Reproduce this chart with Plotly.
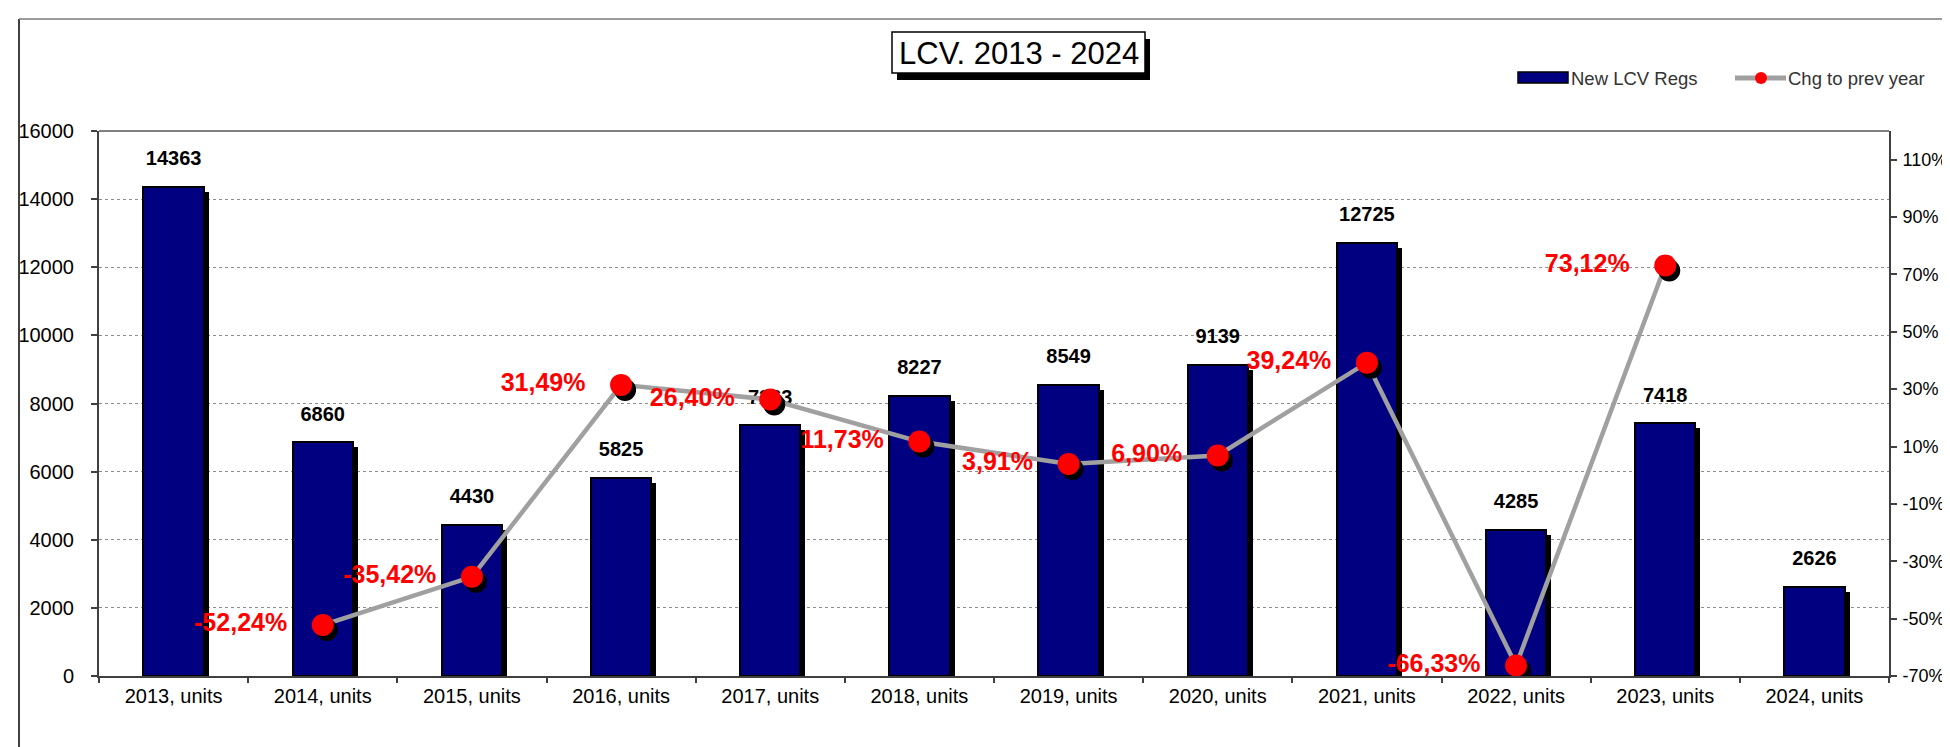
import plotly.graph_objects as go

categories = ["2013, units", "2014, units", "2015, units", "2016, units", "2017, units",
              "2018, units", "2019, units", "2020, units", "2021, units", "2022, units",
              "2023, units", "2024, units"]
regs = [14363, 6860, 4430, 5825, 7363, 8227, 8549, 9139, 12725, 4285, 7418, 2626]
chg_pct = [None, -52.24, -35.42, 31.49, 26.40, 11.73, 3.91, 6.90, 39.24, -66.33, 73.12, None]
y2_ticks = [-70, -50, -30, -10, 10, 30, 50, 70, 90, 110]
series_names = ["New LCV Regs", "Chg to prev year"]
title_text = "LCV. 2013 - 2024"

W, H = 1950, 747
L, R, T, B = 91, 69, 123, 79
PW, PH = W - L - R, H - T - B
Y1MAX = 16000
Y2MIN, Y2MAX = -70, 120
n = len(categories)
xs = list(range(n))
cat_px = PW / n

def px2x(p):
    return (p - L) / PW

def px2y(p):
    return (H - B - p) / PH

# shadow offsets (pixels -> data units)
bar_dx = 5 / cat_px
bar_dy = 5 * Y1MAX / PH
mk_dx = 4 / cat_px
mk_dy = 5 * (Y2MAX - Y2MIN) / PH
BW = 0.405

SANS = "Liberation Sans, Arial, sans-serif"
NAVY = "#000080"
GRAYLINE = "#A0A0A0"
NBSP = "\u00a0"

fig = go.Figure()

# bar shadows
fig.add_trace(go.Bar(
    x=xs, y=[v - bar_dy for v in regs], width=BW, offset=-BW / 2 + bar_dx,
    marker=dict(color="black", line=dict(width=0)), showlegend=False, hoverinfo="skip"))
# bars
fig.add_trace(go.Bar(
    x=xs, y=regs, width=BW, offset=-BW / 2, name=series_names[0],
    marker=dict(color=NAVY, line=dict(color="black", width=2)),
    showlegend=False))
# bar value labels
fig.add_trace(go.Scatter(
    x=xs, y=regs, mode="markers+text",
    marker=dict(size=25, color="rgba(0,0,0,0)"),
    text=[str(v) for v in regs], textposition="top center",
    textfont=dict(family=SANS, size=20, color="black", weight="bold"),
    cliponaxis=False, showlegend=False, hoverinfo="skip"))

px_x = [i for i, v in zip(xs, chg_pct) if v is not None]
px_v = [v for v in chg_pct if v is not None]

# line
fig.add_trace(go.Scatter(
    x=px_x, y=px_v, yaxis="y2", mode="lines",
    line=dict(color=GRAYLINE, width=4.5), showlegend=False, hoverinfo="skip"))
# marker shadows
fig.add_trace(go.Scatter(
    x=[x + mk_dx for x in px_x], y=[v - mk_dy for v in px_v], yaxis="y2", mode="markers",
    marker=dict(color="black", size=22, line=dict(width=0)), showlegend=False, hoverinfo="skip"))
# markers + labels
fig.add_trace(go.Scatter(
    x=px_x, y=px_v, yaxis="y2", mode="markers+text", name=series_names[1],
    marker=dict(color="#FF0000", size=22, line=dict(width=0)),
    text=[f"{v:.2f}%".replace(".", ",") + NBSP * 3 for v in px_v],
    textposition="middle left",
    textfont=dict(family=SANS, size=25, color="#FF0000", weight="bold"),
    cliponaxis=False, showlegend=False))

# invisible trace to activate boundary-tick axis
fig.add_trace(go.Scatter(x=[0], y=[0], xaxis="x2", mode="markers",
                         marker=dict(opacity=0), showlegend=False, hoverinfo="skip"))

fig.update_layout(
    width=W, height=H,
    margin=dict(l=L, r=R, t=T, b=B, autoexpand=False),
    paper_bgcolor="white", plot_bgcolor="white",
    barmode="overlay", bargap=0,
    font=dict(family=SANS, size=20, color="black"),
    showlegend=False,
    xaxis=dict(range=[-0.5, n - 0.5], tickvals=xs, ticktext=categories, ticks="",
               showgrid=False, zeroline=False, showline=True, linecolor="#404040",
               linewidth=2, tickfont=dict(size=20), ticklabelstandoff=1),
    xaxis2=dict(range=[-0.5, n - 0.5], overlaying="x", anchor="y", side="bottom",
                tickvals=[i - 0.5 for i in range(n + 1)], ticks="outside", ticklen=6,
                tickcolor="#404040", tickwidth=2, showticklabels=False,
                showgrid=False, zeroline=False, showline=False),
    yaxis=dict(range=[0, Y1MAX], dtick=2000, tick0=0, tickformat="d",
               ticks="outside", ticklen=6, tickcolor="#404040", tickwidth=2,
               showgrid=True, gridcolor="#8C8C8C", griddash="dot", gridwidth=1,
               zeroline=False, showline=True, linecolor="#404040", linewidth=2,
               tickfont=dict(size=20), ticklabelstandoff=13),
    yaxis2=dict(range=[Y2MIN, Y2MAX], overlaying="y", side="right", tickvals=y2_ticks,
                ticktext=[f"{v}%" for v in y2_ticks], ticks="outside", ticklen=6,
                tickcolor="#404040", tickwidth=2, showgrid=False, zeroline=False,
                showline=True, linecolor="#404040", linewidth=2,
                tickfont=dict(size=18), ticklabelstandoff=2),
)

shapes = [
    # top border of plot area
    dict(type="line", xref="paper", yref="paper", x0=0, x1=1, y0=1, y1=1,
         line=dict(color="#808080", width=2)),
    # outer frame
    dict(type="line", xref="paper", yref="paper", x0=px2x(11), x1=px2x(11),
         y0=px2y(11), y1=px2y(760), line=dict(color="black", width=1.5)),
    dict(type="line", xref="paper", yref="paper", x0=px2x(11), x1=px2x(1960),
         y0=px2y(11), y1=px2y(11), line=dict(color="#7A7A7A", width=1.5)),
    # title box shadow and box
    dict(type="rect", xref="paper", yref="paper", x0=px2x(889), x1=px2x(1142),
         y0=px2y(72), y1=px2y(31), fillcolor="black", line=dict(width=0)),
    dict(type="rect", xref="paper", yref="paper", x0=px2x(884), x1=px2x(1137),
         y0=px2y(65), y1=px2y(24), fillcolor="white", line=dict(color="black", width=1.5)),
    # legend symbols
    dict(type="rect", xref="paper", yref="paper", x0=px2x(1510), x1=px2x(1560),
         y0=px2y(75), y1=px2y(64), fillcolor=NAVY, line=dict(color="black", width=1.5)),
    dict(type="line", xref="paper", yref="paper", x0=px2x(1727), x1=px2x(1778),
         y0=px2y(70), y1=px2y(70), line=dict(color=GRAYLINE, width=5)),
    dict(type="circle", xref="paper", yref="paper", x0=px2x(1747), x1=px2x(1759),
         y0=px2y(76), y1=px2y(64), fillcolor="#FF0000", line=dict(width=0)),
]
fig.update_layout(shapes=shapes)

fig.add_annotation(text=title_text, xref="paper", yref="paper",
                   x=px2x(1010.5), y=px2y(45), xanchor="center", yanchor="middle",
                   showarrow=False,
                   font=dict(family=SANS, size=31, color="black"))
fig.add_annotation(text=series_names[0], xref="paper", yref="paper",
                   x=px2x(1561), y=px2y(70), xanchor="left", yanchor="middle",
                   showarrow=False, font=dict(family=SANS, size=18.5, color="#333333"))
fig.add_annotation(text=series_names[1], xref="paper", yref="paper",
                   x=px2x(1778), y=px2y(70), xanchor="left", yanchor="middle",
                   showarrow=False, font=dict(family=SANS, size=18.5, color="#333333"))

fig.write_html("out.html")
